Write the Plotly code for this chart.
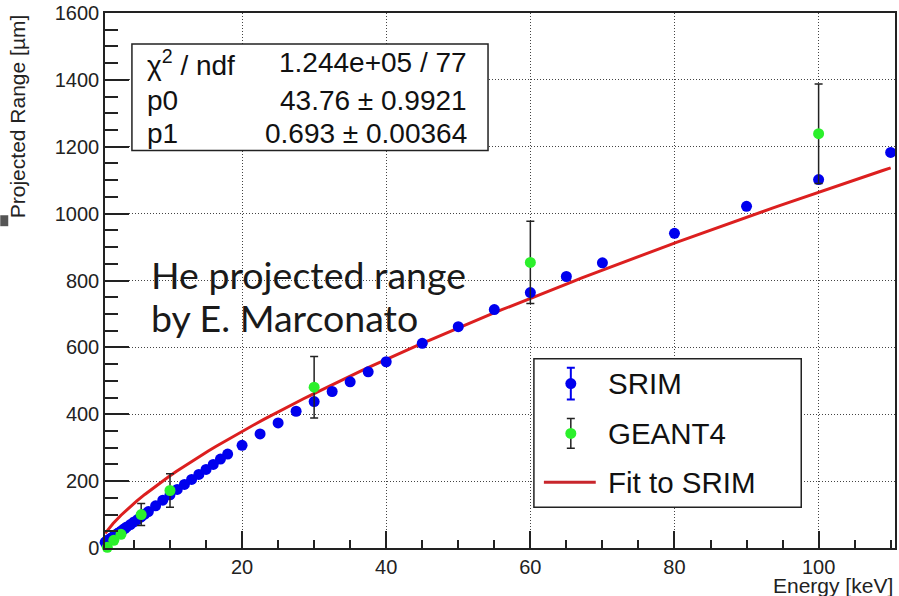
import numpy as np
import plotly.graph_objects as go

# ---------------- data ----------------
srim_energy = [1.0, 1.1, 1.2, 1.3, 1.4, 1.5, 1.6, 1.7, 1.8, 2.0, 2.25, 2.5, 2.75, 3.0,
               3.25, 3.5, 3.75, 4.0, 4.5, 5.0, 5.5, 6.0, 6.5, 7.0, 8, 9, 10, 11, 12, 13,
               14, 15, 16, 17, 18, 20, 22.5, 25, 27.5, 30, 32.5, 35, 37.5, 40, 45, 50,
               55, 60, 65, 70, 80, 90, 100, 110]
srim_range = [17, 18, 20, 21, 23, 24, 26, 27, 29, 32, 36, 40, 44, 47,
              51, 55, 59, 63, 70, 78, 85, 93, 101, 109, 126, 143, 159, 175, 190, 205,
              220, 235, 250, 266, 281, 307, 341, 374, 409, 438, 468, 497, 527, 557, 612, 662,
              713, 764, 812, 853, 941, 1022, 1102, 1183]

geant_energy = [1.3, 2.2, 3.2, 6, 10, 30, 60, 100]
geant_range = [2, 23, 41, 100, 172, 481, 854, 1239]
geant_err = [3, 4, 5, 33, 50, 92, 123, 149]

# fit parameters (power law p0 * E^p1) as shown in the stats box
P0 = 43.76
P1 = 0.693
fit_emin, fit_emax = 1.0, 110.0

stats_labels = ["χ<sup>2</sup> / ndf", "p0", "p1"]
stats_values = ["1.244e+05 / 77", "43.76 ± 0.9921", "0.693 ± 0.00364"]
legend_labels = ["SRIM", "GEANT4", "Fit to SRIM"]

x_ticks = [20, 40, 60, 80, 100]
y_ticks = [0, 200, 400, 600, 800, 1000, 1200, 1400, 1600]

X_RANGE = [0.98, 110.6]
Y_RANGE = [0, 1600]

# ---------------- layout geometry (pixels) ----------------
W, H = 899, 596
L, R, T, B = 105, 2, 11, 48
PW, PH = W - L - R, H - T - B


def px(xp):
    return (xp - L) / PW


def py(yp):
    return (H - B - yp) / PH


def dx(xp):
    return X_RANGE[0] + px(xp) * (X_RANGE[1] - X_RANGE[0])


def dy(yp):
    return Y_RANGE[0] + py(yp) * (Y_RANGE[1] - Y_RANGE[0])


FONT = "Liberation Sans, Arial, sans-serif"
BLUE = "#0000ee"
GREEN = "#2bf02b"
RED = "#dc1f1f"

fit_x = np.linspace(fit_emin, fit_emax, 100)
fit_y = P0 * fit_x ** P1

fig = go.Figure()

fig.add_trace(go.Scatter(x=fit_x, y=fit_y, mode="lines",
                         line=dict(color=RED, width=3), showlegend=False,
                         cliponaxis=False))
fig.add_trace(go.Scatter(x=srim_energy, y=srim_range, mode="markers",
                         marker=dict(color=BLUE, size=11), showlegend=False,
                         cliponaxis=False))
fig.add_trace(go.Scatter(x=geant_energy, y=geant_range, mode="markers",
                         marker=dict(color=GREEN, size=11), showlegend=False,
                         error_y=dict(type="data", array=geant_err, visible=True,
                                      color="#222", thickness=1.5, width=4),
                         cliponaxis=False))

# legend symbols (positioned in pixel space, converted to axis units)
fig.add_trace(go.Scatter(x=[dx(572)], y=[dy(383)], mode="markers",
                         marker=dict(color=BLUE, size=11), showlegend=False,
                         error_y=dict(type="constant", value=dy(367) - dy(383), color=BLUE,
                                      thickness=2, width=4)))
fig.add_trace(go.Scatter(x=[dx(572)], y=[dy(433)], mode="markers",
                         marker=dict(color=GREEN, size=11), showlegend=False,
                         error_y=dict(type="constant", value=dy(418) - dy(433), color="#222",
                                      thickness=1.5, width=4)))
fig.add_trace(go.Scatter(x=[dx(545), dx(597)], y=[dy(482), dy(482)], mode="lines",
                         line=dict(color="#c8262c", width=3), showlegend=False))

shapes = [
    # stats box
    dict(type="rect", xref="x", yref="y", x0=dx(132), x1=dx(489), y0=dy(149), y1=dy(42),
         fillcolor="white", line=dict(color="#222", width=1.5), layer="between"),
    # legend box
    dict(type="rect", xref="x", yref="y", x0=dx(535), x1=dx(803), y0=dy(507), y1=dy(358),
         fillcolor="white", line=dict(color="#222", width=1.5), layer="between"),
    # small grey mark at left edge
    dict(type="rect", xref="paper", yref="paper", x0=px(0), x1=px(8),
         y0=py(225), y1=py(214), fillcolor="#555", line=dict(width=0), layer="above"),
]

annotations = []
row_y = [61, 98.5, 132]
for lab, val, yy in zip(stats_labels, stats_values, row_y):
    annotations.append(dict(x=px(145), y=py(yy), xref="paper", yref="paper", text=lab,
                            showarrow=False, xanchor="left", yanchor="middle",
                            font=dict(family=FONT, size=28, color="#111")))
    annotations.append(dict(x=px(470), y=py(yy), xref="paper", yref="paper", text=val,
                            showarrow=False, xanchor="right", yanchor="middle",
                            font=dict(family=FONT, size=28, color="#111")))

leg_y = [383, 433, 482]
for lab, yy in zip(legend_labels, leg_y):
    annotations.append(dict(x=px(607), y=py(yy), xref="paper", yref="paper", text=lab,
                            showarrow=False, xanchor="left", yanchor="middle",
                            font=dict(family=FONT, size=29.5, color="#111")))

annotations.append(dict(x=px(149), y=py(273), xref="paper", yref="paper",
                        text="He projected range",
                        showarrow=False, xanchor="left", yanchor="middle",
                        font=dict(family="Lato, sans-serif", size=37.5, color="#1a1a1a")))
annotations.append(dict(x=px(149), y=py(317), xref="paper", yref="paper",
                        text="by E. Marconato",
                        showarrow=False, xanchor="left", yanchor="middle",
                        font=dict(family="Lato, sans-serif", size=37.5, color="#1a1a1a")))

# axis titles
annotations.append(dict(x=px(17), y=py(10), xref="paper", yref="paper",
                        text="Projected Range [µm]", textangle=-90, showarrow=False,
                        xanchor="center", yanchor="top",
                        font=dict(family=FONT, size=21, color="#222")))
annotations.append(dict(x=px(897), y=py(586), xref="paper", yref="paper",
                        text="Energy [keV]", showarrow=False,
                        xanchor="right", yanchor="middle",
                        font=dict(family=FONT, size=21, color="#222")))

fig.update_layout(
    width=W, height=H, autosize=False,
    margin=dict(l=L, r=R, t=T, b=B, pad=0),
    paper_bgcolor="white", plot_bgcolor="white",
    showlegend=False,
    shapes=shapes, annotations=annotations,
    xaxis=dict(range=X_RANGE, tickvals=x_ticks, ticktext=[str(v) for v in x_ticks],
               ticks="inside", ticklen=17, tickwidth=1.5, tickcolor="#222",
               minor=dict(ticks="inside", ticklen=8, tickwidth=1.5, tickcolor="#222",
                          dtick=5, tick0=0, showgrid=False),
               showline=True, linecolor="#222", linewidth=1.5, mirror=True,
               showgrid=True, gridcolor="#444", gridwidth=1, griddash="1px,2px",
               zeroline=False, tickfont=dict(family=FONT, size=20, color="#222")),
    yaxis=dict(range=Y_RANGE, tickvals=y_ticks, ticktext=[str(v) for v in y_ticks],
               ticks="inside", ticklen=24, tickwidth=1.5, tickcolor="#222",
               minor=dict(ticks="inside", ticklen=13, tickwidth=1.5, tickcolor="#222",
                          dtick=50, tick0=0, showgrid=False),
               showline=True, linecolor="#222", linewidth=1.5, mirror=True,
               showgrid=True, gridcolor="#444", gridwidth=1, griddash="1px,2px",
               zeroline=False, tickfont=dict(family=FONT, size=20, color="#222")),
)

fig.write_html("out.html")
